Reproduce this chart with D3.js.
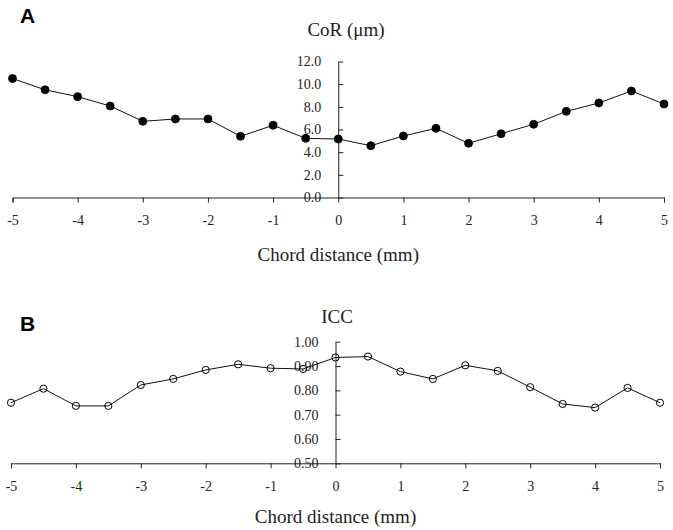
<!DOCTYPE html>
<html><head><meta charset="utf-8">
<script src="https://cdn.jsdelivr.net/npm/d3@7"></script>
<style>body{margin:0;background:#fff}svg{display:block}</style>
</head><body>
<script>
const distance = [-5,-4.5,-4,-3.5,-3,-2.5,-2,-1.5,-1,-0.5,0,0.5,1,1.5,2,2.5,3,3.5,4,4.5,5];
const corValues = [10.5,9.5,8.9,8.07,6.72,6.93,6.93,5.4,6.37,5.22,5.16,4.57,5.43,6.1,4.78,5.63,6.46,7.6,8.34,9.4,8.25];
const iccValues = [0.749,0.807,0.736,0.736,0.822,0.847,0.884,0.907,0.891,0.888,0.935,0.939,0.877,0.847,0.903,0.88,0.813,0.744,0.729,0.81,0.749];
const xTicks = [-5,-4,-3,-2,-1,0,1,2,3,4,5];
const corTicks = [0,2,4,6,8,10,12];
const iccTicks = [0.5,0.6,0.7,0.8,0.9,1.0];

const W = 673, H = 530;
const svg = d3.select("body").append("svg").attr("width", W).attr("height", H);
const serif = "'Liberation Serif','Times New Roman',serif";

function panel(opt) {
  const x = d3.scaleLinear().domain([-5,5]).range(opt.xr);
  const y = d3.scaleLinear().domain(opt.yd).range(opt.yr);
  const g = svg.append("g");
  // x axis
  const xa = g.append("g").attr("transform", `translate(0,${opt.yr[0]})`)
    .call(d3.axisBottom(x).tickValues(xTicks).tickSize(5).tickPadding(13).tickFormat(d => String(d)));
  xa.select(".domain").attr("stroke","#222");
  xa.selectAll(".tick line").attr("stroke","#222");
  xa.selectAll("text").attr("font-family", serif).attr("font-size", 14).attr("fill","#222");
  // y axis at x=0
  const ya = g.append("g").attr("transform", `translate(${x(0)},0)`)
    .call(d3.axisRight(y).tickValues(opt.yt).tickSize(5).tickSizeOuter(0).tickFormat(opt.fmt));
  ya.select(".domain").attr("stroke","#222");
  ya.selectAll(".tick line").attr("stroke","#222");
  ya.selectAll("text").attr("font-family", serif).attr("font-size", 14).attr("fill","#222")
    .attr("x", -17).attr("text-anchor","end");
  // line
  const line = d3.line().x((d,i)=>x(distance[i])).y(d=>y(d));
  g.append("path").datum(opt.vals).attr("d", line).attr("fill","none").attr("stroke","#111").attr("stroke-width",1);
  g.selectAll("circle.pt").data(opt.vals).enter().append("circle")
    .attr("cx",(d,i)=>x(distance[i])).attr("cy",d=>y(d)).attr("r", opt.filled?4:3.6)
    .attr("fill", opt.filled?"#000":"none").attr("stroke","#000").attr("stroke-width", opt.filled?0.8:1);
  // title
  g.append("text").attr("x", opt.titleX).attr("y", opt.titleY).attr("text-anchor","middle")
    .attr("font-family", serif).attr("font-size", 19).attr("fill","#222").text(opt.title);
  g.append("text").attr("x", x(0)).attr("y", opt.xlabY).attr("text-anchor","middle")
    .attr("font-family", serif).attr("font-size", 19).attr("fill","#222").text("Chord distance (mm)");
  g.append("text").attr("x", opt.letterX).attr("y", opt.letterY)
    .attr("font-family","'Liberation Sans',Arial,sans-serif").attr("font-weight","bold").attr("font-size",21).text(opt.letter);
}

panel({xr:[12.5,664], yd:[0,12], yr:[197.5,61.5], yt:corTicks, fmt:d3.format(".1f"), vals:corValues, filled:true,
  title:"CoR (μm)", titleX:346, titleY:36, xlabY:261, letter:"A", letterX:20, letterY:23});
panel({xr:[11,660], yd:[0.5,1.0], yr:[463.3,341.7], yt:iccTicks, fmt:d3.format(".2f"), vals:iccValues, filled:false,
  title:"ICC", titleX:337, titleY:322.5, xlabY:522.5, letter:"B", letterX:20, letterY:331});
</script>
</body></html>
